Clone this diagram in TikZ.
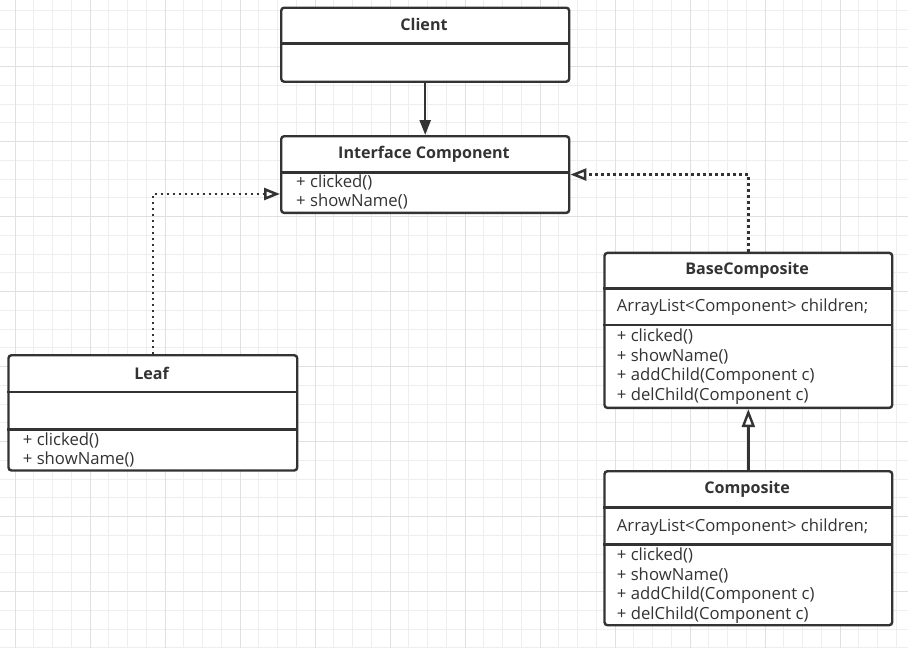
\documentclass[tikz,border=0pt]{standalone}
\usepackage{fontspec}
\setmainfont{Open Sans}
\usetikzlibrary{arrows.meta}
\definecolor{ink}{HTML}{333333}
\definecolor{gridminor}{HTML}{EEEEEE}
\definecolor{gridmajor}{HTML}{E0E0E0}
\tikzset{
  cls/.style={draw=ink, line width=2.4pt, rounded corners=3pt, fill=white, anchor=north west, inner sep=0pt},
  sep/.style={draw=ink, line width=2.4pt},
  ttl/.style={text=ink, font=\fontsize{16.1}{18}\selectfont\bfseries, inner sep=0pt},
  mem/.style={text=ink, font=\fontsize{16.7}{18}\selectfont, inner sep=0pt, anchor=west},
  assoc/.style={draw=ink, line width=2.4pt, -{Triangle[length=15pt,width=11pt]}},
  dep/.style={draw=ink, line width=2.5pt, dash pattern=on 2.5pt off 3.5pt, -{Triangle[open,length=16pt,width=12pt,fill=white]}},
  gen/.style={draw=ink, line width=2.4pt, -{Triangle[open,length=18pt,width=13pt,fill=white]}},
}
\begin{document}
\begin{tikzpicture}[x=1pt,y=-1pt]
\useasboundingbox (0,0) rectangle (908,648);
\fill[white] (0,0) rectangle (908,648);
\begin{scope}
\clip (0,0) rectangle (908,648);
\foreach \k in {0,...,49} \draw[gridminor, line width=1pt] (-3.75+18.75*\k,0) -- (-3.75+18.75*\k,648);
\foreach \k in {-1,...,34} \draw[gridminor, line width=1pt] (0,10.45+18.75*\k) -- (908,10.45+18.75*\k);
\foreach \k in {0,...,12} \draw[gridmajor, line width=1pt] (15+75*\k,0) -- (15+75*\k,648);
\foreach \k in {-1,...,8} \draw[gridmajor, line width=1pt] (0,66.7+75*\k) -- (908,66.7+75*\k);
\end{scope}

% Client
\node[cls, minimum width=288pt, minimum height=74pt] (client) at (280,6.5) {};
\draw[sep] (280,43.3) -- (568,43.3);
\node[ttl] (clientT) at (424,24.5) {Client};

% Interface Component
\node[cls, minimum width=288pt, minimum height=76.7pt] (iface) at (280,135) {};
\draw[sep] (280,172.3) -- (568,172.3);
\node[ttl] (ifaceT) at (424,154) {Interface Component};
\node[mem] (if1) at (296,182.7) {+ clicked()};
\node[mem] (if2) at (296,201.7) {+ showName()};

% Leaf
\node[cls, minimum width=288.7pt, minimum height=115.3pt] (leaf) at (7.3,354) {};
\draw[sep] (7.3,391.7) -- (296,391.7);
\draw[sep] (7.3,429.3) -- (296,429.3);
\node[ttl] (leafT) at (151.65,373.3) {Leaf};
\node[mem] (lf1) at (22.7,440) {+ clicked()};
\node[mem] (lf2) at (22.7,459.3) {+ showName()};

% BaseComposite
\node[cls, minimum width=287.7pt, minimum height=155pt] (base) at (603.3,251.7) {};
\draw[sep] (603.3,288.3) -- (891,288.3);
\draw[sep] (603.3,325) -- (891,325);
\node[ttl] (baseT) at (747.15,270) {BaseComposite};
\node[mem] (bs0) at (616.7,306.7) {ArrayList<Component> children;};
\node[mem] (bs1) at (616.7,336) {+ clicked()};
\node[mem] (bs2) at (616.7,356) {+ showName()};
\node[mem] (bs3) at (616.7,376) {+ addChild(Component c)};
\node[mem] (bs4) at (616.7,396) {+ delChild(Component c)};

% Composite
\node[cls, minimum width=287.7pt, minimum height=154pt] (comp) at (603.3,470) {};
\draw[sep] (603.3,507.3) -- (891,507.3);
\draw[sep] (603.3,544.3) -- (891,544.3);
\node[ttl] (compT) at (747.15,489.3) {Composite};
\node[mem] (cp0) at (616.7,526.7) {ArrayList<Component> children;};
\node[mem] (cp1) at (616.7,555.7) {+ clicked()};
\node[mem] (cp2) at (616.7,575.5) {+ showName()};
\node[mem] (cp3) at (616.7,595.3) {+ addChild(Component c)};
\node[mem] (cp4) at (616.7,615) {+ delChild(Component c)};

% connectors
\coordinate (ifL) at (280,194);
\draw[assoc] (client.south) -- (iface.north);
\draw[dep] (leaf.north) |- (ifL);
\draw[dep] (base.north) |- (iface.east);
\draw[gen] (comp.north) -- (base.south);
\end{tikzpicture}
\end{document}
